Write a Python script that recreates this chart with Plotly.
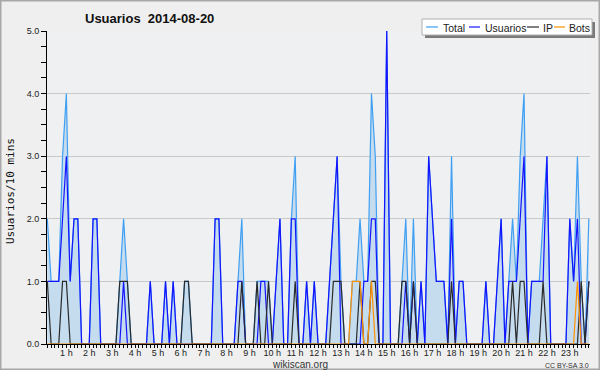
import plotly.graph_objects as go

# ---------------- data (10-minute points, 00:10 .. 23:50) ----------------
hour_labels = [f"{h} h" for h in range(1, 24)]

usuarios = [1, 1, 1, 1, 2, 3, 1, 2, 2, 0, 0, 0, 2, 2, 0, 0, 0, 0, 0, 0,
            1, 0, 0, 0, 0, 0, 0, 1, 0, 0, 0, 1, 0, 1, 0, 0, 0, 0, 0, 0,
            0, 0, 0, 0, 2, 2, 0, 0, 0, 0, 1, 1, 0, 0, 0, 0, 1, 1, 0, 0,
            1, 2, 0, 0, 2, 2, 0, 0, 1, 0, 1, 0, 0, 0, 1, 2, 3, 0, 0, 0,
            0, 0, 0, 1, 1, 2, 2, 0, 0, 5, 0, 0, 0, 0, 1, 0, 1, 0, 1, 0,
            3, 2, 1, 1, 1, 0, 2, 0, 1, 1, 0, 0, 0, 0, 0, 1, 0, 0, 1, 2,
            0, 1, 1, 1, 2, 3, 0, 1, 1, 1, 1, 3, 0, 0, 0, 0, 0, 2, 1, 2,
            0, 0, 1]

ip = [1, 0, 0, 0, 1, 1, 0, 0, 0, 0, 0, 0, 0, 0, 0, 0, 0, 0, 0, 1,
      1, 1, 0, 0, 0, 0, 0, 0, 0, 0, 0, 0, 0, 0, 0, 0, 1, 1, 0, 0,
      0, 0, 0, 0, 0, 0, 0, 0, 0, 0, 0, 1, 0, 0, 0, 1, 0, 0, 1, 0,
      0, 0, 0, 0, 0, 1, 0, 0, 0, 0, 0, 0, 0, 0, 0, 1, 1, 1, 0, 0,
      0, 0, 1, 0, 0, 1, 1, 0, 0, 0, 0, 0, 0, 1, 1, 0, 1, 0, 0, 0,
      0, 0, 0, 0, 0, 0, 1, 0, 0, 0, 0, 0, 0, 0, 0, 0, 0, 0, 0, 0,
      0, 0, 1, 0, 1, 1, 0, 0, 0, 0, 1, 0, 0, 0, 0, 0, 0, 0, 0, 0,
      1, 0, 1]

bots = [0, 0, 0, 0, 0, 0, 0, 0, 0, 0, 0, 0, 0, 0, 0, 0, 0, 0, 0, 0,
        0, 0, 0, 0, 0, 0, 0, 0, 0, 0, 0, 0, 0, 0, 0, 0, 0, 0, 0, 0,
        0, 0, 0, 0, 0, 0, 0, 0, 0, 0, 0, 0, 0, 0, 0, 0, 0, 0, 0, 0,
        0, 0, 0, 0, 0, 0, 0, 0, 0, 0, 0, 0, 0, 0, 0, 0, 0, 0, 0, 0,
        1, 1, 1, 0, 0, 1, 0, 0, 0, 0, 0, 0, 0, 0, 0, 0, 0, 0, 0, 0,
        0, 0, 0, 0, 0, 0, 0, 0, 0, 0, 0, 0, 0, 0, 0, 0, 0, 0, 0, 0,
        0, 0, 0, 0, 0, 0, 0, 0, 0, 0, 0, 0, 0, 0, 0, 0, 0, 0, 0, 1,
        0, 0, 0]

total = [2, 1, 1, 1, 3, 4, 1, 2, 2, 0, 0, 0, 2, 2, 0, 0, 0, 0, 0, 1,
         2, 1, 0, 0, 0, 0, 0, 1, 0, 0, 0, 1, 0, 1, 0, 0, 1, 1, 0, 0,
         0, 0, 0, 0, 2, 2, 0, 0, 0, 0, 1, 2, 0, 0, 0, 1, 1, 1, 1, 0,
         1, 2, 0, 0, 2, 3, 0, 0, 1, 0, 1, 0, 0, 0, 1, 2, 3, 1, 0, 0,
         1, 1, 2, 1, 1, 4, 3, 0, 0, 5, 0, 0, 0, 1, 2, 0, 2, 0, 1, 0,
         3, 2, 1, 1, 1, 0, 3, 0, 1, 1, 0, 0, 0, 0, 0, 1, 0, 0, 1, 2,
         0, 1, 2, 1, 3, 4, 0, 1, 1, 1, 2, 3, 0, 0, 0, 0, 0, 2, 1, 3,
         1, 0, 2]

idx = list(range(len(total)))

# ---------------- styling ----------------
C_TOTAL = "#3f9ff2"
C_FILL = "#c5dcef"
C_USR = "#1414ff"
C_IP = "#2a2a2a"
C_BOT = "#ff9000"
FONT = "Liberation Sans, Arial, sans-serif"

W, H = 600, 370
PL, PR, PT, PB = 47, 590, 31, 344


def px(x):
    return (x - PL) / (PR - PL)


def py(y):
    return (PB - y) / (PB - PT)


fig = go.Figure()
fig.add_trace(go.Scatter(x=idx, y=total, mode="lines", name="Total",
                         line=dict(color=C_TOTAL, width=1.2),
                         fill="tozeroy", fillcolor=C_FILL))
fig.add_trace(go.Scatter(x=idx, y=usuarios, mode="lines", name="Usuarios",
                         line=dict(color=C_USR, width=1.2)))
fig.add_trace(go.Scatter(x=idx, y=ip, mode="lines", name="IP",
                         line=dict(color=C_IP, width=1.2)))
fig.add_trace(go.Scatter(x=idx, y=bots, mode="lines", name="Bots",
                         line=dict(color=C_BOT, width=1.2)))

shapes = []
annotations = []

# outer frame
shapes.append(dict(type="rect", xref="paper", yref="paper",
                   x0=px(0.75), x1=px(599.25), y0=py(0.75), y1=py(369.25),
                   line=dict(color="#a8a8a8", width=1.5), layer="below"))

# manual legend box with shadow
shapes.append(dict(type="rect", xref="paper", yref="paper",
                   x0=px(425), x1=px(595), y0=py(22), y1=py(38),
                   fillcolor="#7a7a7a", line=dict(width=0)))
shapes.append(dict(type="rect", xref="paper", yref="paper",
                   x0=px(422), x1=px(592), y0=py(19), y1=py(35),
                   fillcolor="white", line=dict(color="#b0b0b0", width=1)))
legend_items = [("Total", C_TOTAL, 426, 438, 442),
                ("Usuarios", C_USR, 469, 480, 484),
                ("IP", C_IP, 527, 539, 542),
                ("Bots", C_BOT, 554, 565, 568)]
for name, col, lx0, lx1, tx in legend_items:
    shapes.append(dict(type="line", xref="paper", yref="paper",
                       x0=px(lx0), x1=px(lx1), y0=py(27), y1=py(27),
                       line=dict(color=col, width=1.2)))
    annotations.append(dict(text=name, xref="paper", yref="paper",
                            x=px(tx - 1), y=py(27.5), xanchor="left", yanchor="middle",
                            showarrow=False, font=dict(family=FONT, size=10.5, color="#222")))

# y axis title
annotations.append(dict(text="Usuarios/10 mins", xref="paper", yref="paper",
                        x=px(10), y=py(191), textangle=-90, showarrow=False,
                        xanchor="center", yanchor="middle",
                        font=dict(family="DejaVu Sans Mono, monospace", size=11, color="#111")))
# footer
annotations.append(dict(text="wikiscan.org", xref="paper", yref="paper",
                        x=px(300), y=py(364), showarrow=False,
                        xanchor="center", yanchor="middle",
                        font=dict(family=FONT, size=10, color="#333")))
annotations.append(dict(text="CC BY-SA 3.0", xref="paper", yref="paper",
                        x=px(591), y=py(365.5), showarrow=False,
                        xanchor="right", yanchor="middle",
                        font=dict(family=FONT, size=7, color="#333")))

x_max = (PR - 46.7) / 3.818

fig.update_layout(
    width=W, height=H,
    margin=dict(l=PL, r=W - PR, t=PT, b=H - PB, pad=0),
    paper_bgcolor="#efefef",
    plot_bgcolor="#eef0f2",
    showlegend=False,
    title=dict(text="<b>Usuarios\u00a0 2014-08-20</b>", x=85 / W, xanchor="left",
               y=1 - 18 / H, yanchor="middle",
               font=dict(family=FONT, size=13, color="#111")),
    shapes=shapes,
    annotations=annotations,
    xaxis=dict(range=[-0.08, x_max], tickmode="array",
               tickvals=[6 * h - 1 for h in range(1, 24)], ticktext=hour_labels,
               showgrid=False, zeroline=False, showline=True, linecolor="black",
               linewidth=1, ticks="outside", ticklen=3, tickcolor="black",
               tickfont=dict(family=FONT, size=9, color="#222"),
               minor=dict(dtick=1, tick0=0, ticks="outside", ticklen=3,
                          tickcolor="black", showgrid=False)),
    yaxis=dict(range=[0, 5], dtick=1, tickformat=".1f", showgrid=True,
               gridcolor="#c9c9c9", gridwidth=1, zeroline=False, showline=True,
               linecolor="black", linewidth=1, ticks="outside", ticklen=5,
               tickcolor="black", tickfont=dict(family=FONT, size=9, color="#222"),
               minor=dict(dtick=0.25, ticks="outside", ticklen=5,
                          tickcolor="black", showgrid=False)),
)

try:
    fig.update_xaxes(ticklabelstandoff=-3)
except Exception:
    pass

fig.write_html(
    "out.html",
    config={"displayModeBar": False},
    post_script="document.body.style.margin='0px';document.body.style.padding='0px';"
                "document.body.style.overflow='hidden';",
)
